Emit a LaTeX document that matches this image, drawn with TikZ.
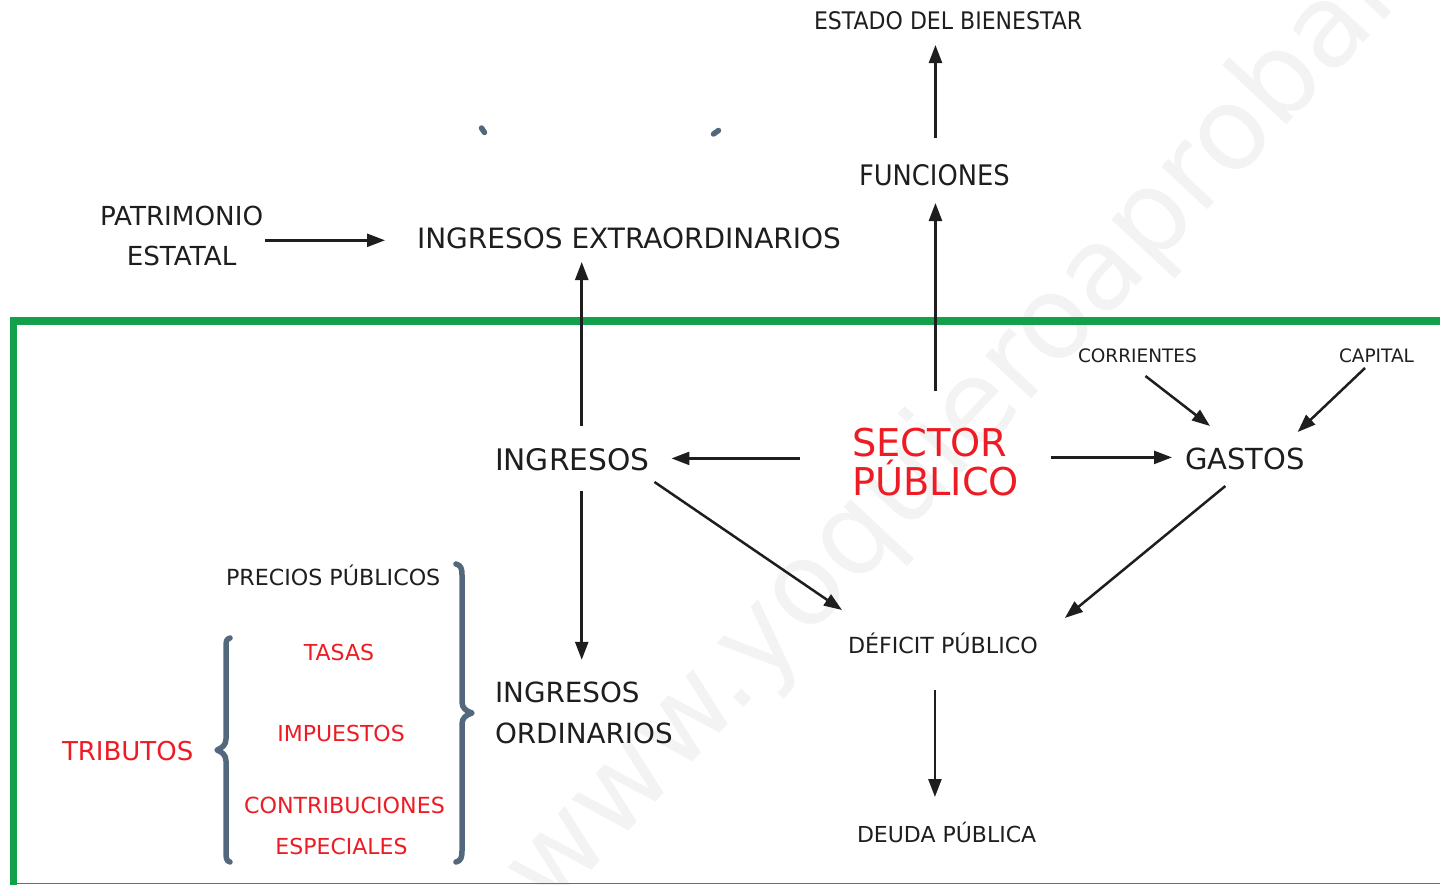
\documentclass[tikz,border=0pt]{standalone}
\usepackage{fontspec}
\setmainfont{DejaVu Sans}
\newfontfamily\condfont[FakeStretch=0.91]{DejaVu Sans}
\usetikzlibrary{arrows.meta,calc}
\definecolor{ink}{RGB}{30,30,30}
\definecolor{redtxt}{RGB}{237,28,36}
\definecolor{framegreen}{RGB}{18,161,75}
\definecolor{slate}{RGB}{84,104,125}
\definecolor{wmark}{RGB}{243,243,243}
\newcommand{\fsz}[2]{\fontsize{#1}{#2}\selectfont}
\begin{document}
\begin{tikzpicture}[x=1pt,y=-1pt,
  lbl/.style={inner sep=0pt, outer sep=0pt, text=ink},
  oneline/.style={lbl, anchor=base west, text depth=0pt, text height=#1},
  arr/.style={draw=ink, line width=2.5pt, -{Triangle[length=18pt,width=13pt]}},
  bracepath/.style={draw=slate, line width=5.5pt, line cap=round, line join=round},
]
\useasboundingbox (0,0) rectangle (1440,884);
\clip (0,0) rectangle (1440,884);

% watermark
\node[rotate=47, anchor=base west, text=wmark, font=\fsz{115}{120}, inner sep=0pt] (wm) at (550,915) {www.yoquieroaprobar.es};

% frame
\draw[framegreen, line width=7.5pt] (13.5,890) -- (13.5,321) -- (1445,321);
\draw[framegreen, line width=1.5pt] (13.5,883.5) -- (1445,883.5);

% nodes
\node[oneline=17.5pt, font=\condfont\fsz{24.2}{28}] (estado) at (814,29) {ESTADO DEL BIENESTAR};
\node[oneline=20.4pt, font=\condfont\fsz{28.3}{32}] (fun) at (859,185) {FUNCIONES};
\node[lbl, anchor=west, align=center, font=\fsz{26.2}{40}] (patr) at (100,236.3) {PATRIMONIO\\ESTATAL};
\node[oneline=20pt, font=\fsz{28}{32}] (ingext) at (417,248) {INGRESOS EXTRAORDINARIOS};
\node[lbl, anchor=west, align=left, text=redtxt, font=\fsz{38.3}{39}] (sector) at (852,462.4) {SECTOR\\PÚBLICO};
\node[oneline=21.1pt, font=\fsz{29.7}{34}] (ingmid) at (495,470) {INGRESOS};
\node[oneline=21pt, font=\fsz{29}{34}] (gastos) at (1185,469) {GASTOS};
\node[oneline=13.5pt, font=\fsz{18.5}{22}] (corr) at (1078,362) {CORRIENTES};
\node[oneline=13.5pt, font=\fsz{18.5}{22}] (cap) at (1339,362) {CAPITAL};
\node[oneline=16pt, font=\fsz{22.2}{26}] (deficit) at (848,653) {DÉFICIT PÚBLICO};
\node[oneline=16pt, font=\fsz{22}{26}] (deuda) at (857,842) {DEUDA PÚBLICA};
\node[oneline=16pt, font=\fsz{22.2}{26}] (precios) at (226,585) {PRECIOS PÚBLICOS};
\node[oneline=16pt, anchor=base, text=redtxt, font=\fsz{22}{26}] (tasas) at (339,660) {TASAS};
\node[oneline=16pt, anchor=base, text=redtxt, font=\fsz{22}{26}] (impuestos) at (341,741) {IMPUESTOS};
\node[oneline=16pt, anchor=base, text=redtxt, font=\fsz{22.2}{26}] (contrib) at (344.5,813) {CONTRIBUCIONES};
\node[oneline=16pt, anchor=base, text=redtxt, font=\fsz{22}{26}] (especiales) at (341.5,854) {ESPECIALES};
\node[oneline=19pt, text=redtxt, font=\fsz{26}{30}] (trib) at (62,760) {TRIBUTOS};
\node[lbl, anchor=west, align=left, font=\fsz{27.8}{41}] (ordin) at (495,713.3) {INGRESOS\\ORDINARIOS};

% braces
\draw[bracepath] (456,564) .. controls (461,565) and (462,569) .. (462,575) -- (462,702)
  .. controls (462,708) and (466,711) .. (472,713) .. controls (466,715) and (462,718) .. (462,724)
  -- (462,851) .. controls (462,857) and (461,861) .. (456,862);
\draw[bracepath] (230,638) .. controls (226,639) and (226,642) .. (226,647) -- (226,739)
  .. controls (226,745) and (222,748) .. (217,750) .. controls (222,752) and (226,755) .. (226,761)
  -- (226,852) .. controls (226,857) and (226,861) .. (230,862);
% small marks
\draw[bracepath] (481.5,128) -- (484.5,132.5);
\draw[bracepath] (713.5,134) -- (718.5,130.5);

% connectors
\draw[arr] ($(sector.north |- fun.north)+(0,-27)$) -- ($(sector.north |- estado.south)+(0,16)$);
\draw[arr] ($(sector.north)+(0,-37)$) -- ($(sector.north |- fun.south)+(0,18)$);
\draw[arr] ($(patr.east)+(2,4)$) -- ($(patr.east -| ingext.west)+(-32,4)$);
\draw[arr] ($(ingmid.north)+(9.5,-23)$) -- ($(ingmid.north |- ingext.south)+(9.5,14)$);
\draw[arr] ($(sector.west)+(-52,-4)$) -- ($(sector.west -| ingmid.east)+(22,-4)$);
\draw[arr] ($(sector.east)+(32,-5)$) -- ($(sector.east -| gastos.west)+(-13,-5)$);
\draw[arr] ($(corr.south)+(8,14)$) -- ($(gastos.north west)+(25,-22)$);
\draw[arr] ($(cap.south)+(-11.5,6)$) -- ($(gastos.north east)+(-7,-16)$);
\draw[arr] ($(ingmid.south east)+(5,12)$) -- ($(deficit.north west)+(-6,-27)$);
\draw[arr] ($(gastos.south)+(-19.5,17)$) -- ($(deficit.north east)+(27,-19)$);
\draw[arr] ($(ingmid.south)+(9.5,21)$) -- ($(ingmid.south |- ordin.north)+(9.5,-22.5)$);
\draw[arr] ($(deficit.south)+(-8,37)$) -- ($(deficit.south |- deuda.north)+(-8,-29)$);
\end{tikzpicture}
\end{document}
